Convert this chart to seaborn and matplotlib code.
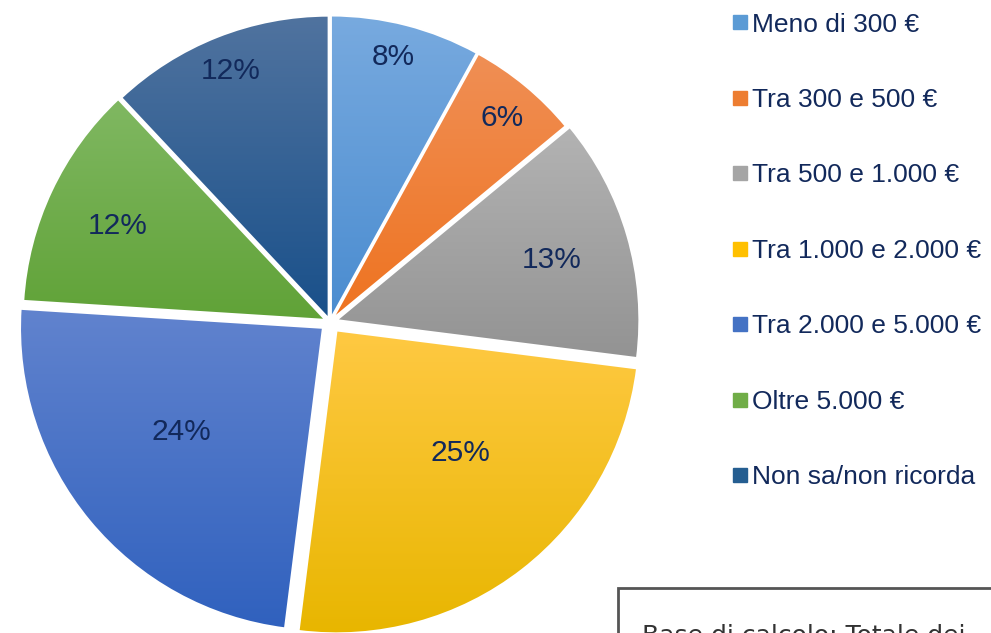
import numpy as np
import matplotlib
matplotlib.use("Agg")
import matplotlib.pyplot as plt
from matplotlib.colors import LinearSegmentedColormap
from matplotlib.lines import Line2D
from matplotlib.patches import Rectangle
import seaborn as sns

# Dati
categorie = [
    "Meno di 300 €",
    "Tra 300 e 500 €",
    "Tra 500 e 1.000 €",
    "Tra 1.000 e 2.000 €",
    "Tra 2.000 e 5.000 €",
    "Oltre 5.000 €",
    "Non sa/non ricorda",
]
percentuali = [8, 6, 13, 25, 24, 12, 12]

# Colori (gradiente alto -> basso per ogni spicchio)
colori_base = ["#5B9BD5", "#ED7D31", "#A5A5A5", "#FFC000", "#4472C4", "#70AD47", "#255E91"]
colori_alto = ["#78AADF", "#F08F55", "#B3B3B3", "#FFC943", "#6183CE", "#80B862", "#50739F"]
colori_basso = ["#4A8CD0", "#EE7320", "#939393", "#E8B600", "#3061BE", "#60A237", "#19508A"]

# Stile: esplosione, distanza e spostamento angolare delle etichette
esplosione = [0.012, 0.012, 0.022, 0.035, 0.03, 0.016, 0.012]
dist_etichette = [0.90, 0.88, 0.76, 0.61, 0.61, 0.77, 0.89]
spost_etichette = [1, -0.5, -0.6, 7, -3, 1, 0]

testo_col = "#12295B"

sns.set_theme(style="white")
plt.rcParams["font.family"] = ["Liberation Sans", "DejaVu Sans"]

W, H = 991, 633
fig = plt.figure(figsize=(W / 100, H / 100), dpi=100)

# Posizione della torta in pixel (R = pixel per unità di raggio)
cx, cy, R, lim = 330, 322, 303, 1.08
half = R * lim
ax = fig.add_axes([(cx - half) / W, (H - cy - half) / H, 2 * half / W, 2 * half / H])

wedges, texts, autotexts = ax.pie(
    percentuali,
    startangle=90,
    counterclock=False,
    explode=esplosione,
    autopct=lambda p: f"{p:.0f}%",
    pctdistance=0.7,
    wedgeprops=dict(edgecolor="white", linewidth=1.5),
    textprops=dict(color=testo_col, fontsize=21.5),
)

# Riempimento a gradiente verticale per ogni spicchio
for i, w in enumerate(wedges):
    bb = w.get_path().get_extents(w.get_patch_transform())
    cmap = LinearSegmentedColormap.from_list(f"g{i}", [colori_basso[i], colori_alto[i]])
    grad = np.linspace(0, 1, 256).reshape(-1, 1)
    im = ax.imshow(grad, cmap=cmap, origin="lower", aspect="auto",
                   extent=[bb.x0, bb.x1, bb.y0, bb.y1], interpolation="bicubic",
                   zorder=w.get_zorder() - 0.1)
    im.set_clip_path(w)
    w.set_facecolor("none")

# Posizione delle etichette percentuali
for i, (w, t) in enumerate(zip(wedges, autotexts)):
    ang = np.deg2rad((w.theta1 + w.theta2) / 2 + spost_etichette[i])
    r = dist_etichette[i]
    t.set_position((r * np.cos(ang), r * np.sin(ang)))
    t.set_zorder(5)

ax.set_xlim(-lim, lim)
ax.set_ylim(-lim, lim)
ax.set_aspect("equal")
ax.axis("off")

# Legenda
handles = [Line2D([0], [0], marker="s", linestyle="none", markersize=10,
                  markerfacecolor=c, markeredgecolor=c) for c in colori_base]
leg = fig.legend(handles, categorie, loc="upper left",
                 bbox_to_anchor=(722 / W, 1 - 2 / H),
                 frameon=False, fontsize=19, labelspacing=1.95,
                 handlelength=0.6, handletextpad=0.15, borderaxespad=0)
for t in leg.get_texts():
    t.set_color(testo_col)

# Riquadro "Base di calcolo" in basso a destra
box = Rectangle((618 / W, (H - 640) / H), (1000 - 618) / W, (640 - 588) / H,
                transform=fig.transFigure, facecolor="white",
                edgecolor="#555555", linewidth=2, clip_on=False)
fig.patches.append(box)
fig.text(642 / W, (H - 648) / H, "Base di calcolo: Totale dei",
         fontsize=18, color="#333333", family="DejaVu Sans",
         va="bottom", ha="left")

fig.savefig("out.png", dpi=100)
